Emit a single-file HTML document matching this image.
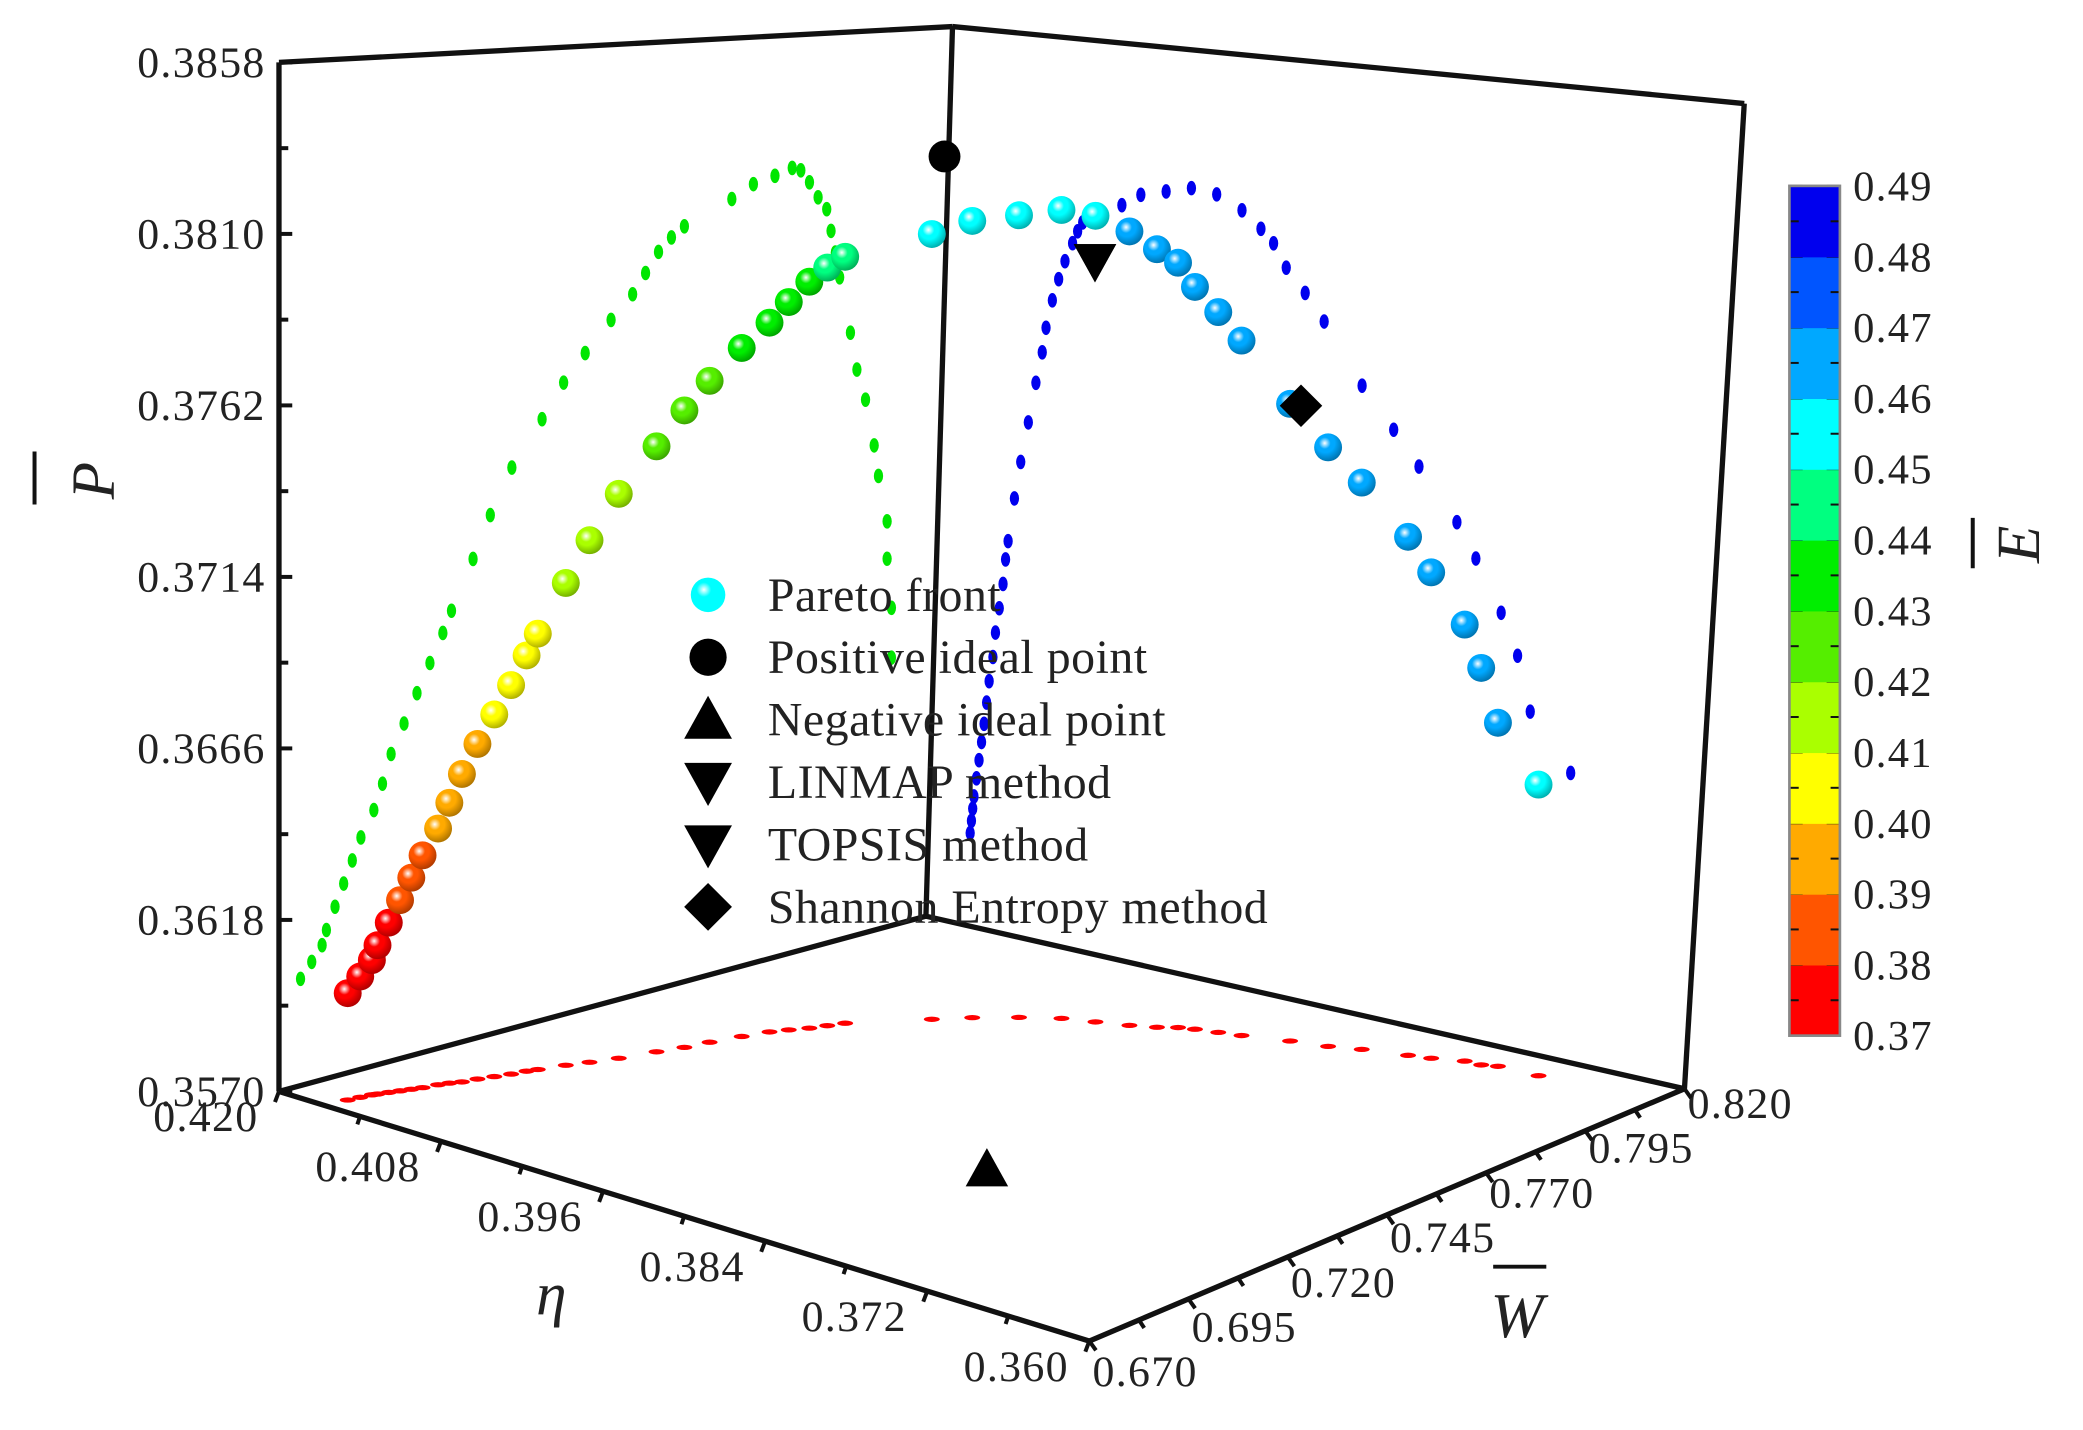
<!DOCTYPE html>
<html><head><meta charset="utf-8"><style>
html,body{margin:0;padding:0;background:#fff;}
svg{display:block;}
text{font-family:"Liberation Serif",serif;fill:#222;}
</style></head><body>
<svg id="chart" width="2083" height="1430" viewBox="0 0 1568 1077" preserveAspectRatio="none" xmlns="http://www.w3.org/2000/svg">
<defs id="defs"></defs>
<g id="box" stroke="#111" stroke-width="4" fill="none">
  <line x1="210" y1="47" x2="717" y2="20"/>
  <line x1="717" y1="20" x2="1313" y2="78"/>
  <line x1="210" y1="47" x2="210" y2="822"/>
  <line x1="717" y1="20" x2="697" y2="690"/>
  <line x1="1313" y1="78" x2="1268" y2="820"/>
  <line x1="210" y1="822" x2="697" y2="690"/>
  <line x1="697" y1="690" x2="1268" y2="820"/>
  <line x1="210" y1="822" x2="820" y2="1010"/>
  <line x1="820" y1="1010" x2="1268" y2="820"/>
</g>
<g id="ticks"></g>
<g id="floor"></g>
<g id="wallL"></g>
<g id="wallR"></g>
<g id="spheres"></g>
<g id="markers"></g>
<g id="legend"></g>
<g id="cbar"></g>
<g id="titles">
  <g transform="translate(86,362) rotate(-90)">
    <text x="0" y="0" font-size="46" font-style="italic" text-anchor="middle">P</text>
    <line x1="-18" y1="-60" x2="22" y2="-60" stroke="#111" stroke-width="3"/>
  </g>
  <text x="415" y="990" font-size="46" font-style="italic" text-anchor="middle">η</text>
  <g>
    <text x="1142" y="1007" font-size="48" font-style="italic" text-anchor="middle">W</text>
    <line x1="1124" y1="954" x2="1164" y2="954" stroke="#111" stroke-width="3"/>
  </g>
  <g transform="translate(1535,410) rotate(-90)">
    <text x="0" y="0" font-size="46" font-style="italic" text-anchor="middle">E</text>
    <line x1="-18" y1="-50" x2="20" y2="-50" stroke="#111" stroke-width="3"/>
  </g>
</g>
</svg>
<script>
// ---------- data ----------
const paretoP   = [0.3600,0.3604,0.3608,0.3612,0.3618,0.3624,0.3630,0.3636,0.3643,0.3650,0.3658,0.3666,0.3674,0.3682,0.3690,0.3696,0.3710,0.3722,0.3735,0.3748,0.3758,0.3766,0.3775,0.3782,0.3788,0.3794,0.3798,0.3801,0.3808,0.3812,0.3814,0.3816,0.3815,0.3811,0.3806,0.3802,0.3795,0.3788,0.3780,0.3762,0.3750,0.3740,0.3725,0.3715,0.3700,0.3688,0.3672,0.3656];
const paretoEta = [0.4165,0.4164,0.4163,0.4162,0.4160,0.4158,0.4156,0.4154,0.4152,0.4150,0.4147,0.4145,0.4142,0.4139,0.4137,0.4135,0.4130,0.4125,0.4119,0.4113,0.4108,0.4105,0.4100,0.4095,0.4090,0.4084,0.4080,0.4076,0.4045,0.4030,0.4010,0.3990,0.3970,0.3950,0.3935,0.3925,0.3915,0.3900,0.3885,0.3855,0.3830,0.3810,0.3780,0.3765,0.3745,0.3732,0.3722,0.3690];
const paretoW   = [0.675,0.6776,0.680,0.681,0.683,0.685,0.687,0.689,0.692,0.694,0.696,0.699,0.702,0.705,0.708,0.710,0.715,0.719,0.724,0.731,0.736,0.741,0.747,0.752,0.755,0.758,0.761,0.764,0.775,0.780,0.785,0.789,0.791,0.793,0.795,0.797,0.798,0.799,0.800,0.8025,0.804,0.806,0.808,0.809,0.811,0.811,0.812,0.812];
const paretoE   = [0.370,0.372,0.374,0.376,0.379,0.382,0.385,0.388,0.391,0.394,0.397,0.399,0.401,0.403,0.405,0.407,0.411,0.414,0.418,0.421,0.424,0.427,0.430,0.433,0.436,0.439,0.442,0.445,0.450,0.452,0.454,0.456,0.458,0.460,0.462,0.463,0.464,0.465,0.465,0.466,0.466,0.467,0.467,0.466,0.466,0.465,0.462,0.455];
const markerNames = ['positive-ideal-point','negative-ideal-point','linmap-point','topsis-point','shannon-entropy-point'];
const markerEta = [0.417,0.384,0.3972,0.3972,0.384];
const markerW   = [0.8155,0.724,0.7915,0.7915,0.8005];
const markerP   = [0.3818,0.357,0.3801,0.3801,0.3763];
const markerShape = ['circle','up','down','down','diamond'];
const pTicks   = ['0.3858','0.3810','0.3762','0.3714','0.3666','0.3618','0.3570'];
const etaTicks = ['0.420','0.408','0.396','0.384','0.372','0.360'];
const wTicks   = ['0.670','0.695','0.720','0.745','0.770','0.795','0.820'];
const cbTicks  = ['0.49','0.48','0.47','0.46','0.45','0.44','0.43','0.42','0.41','0.40','0.39','0.38','0.37'];
const cbColors = ['#ff0000','#ff5500','#ffaa00','#ffff00','#aaff00','#55ee00','#00ee00','#00ff80','#00ffff','#00a8ff','#0055ff','#0000ee'];
const legendLabels = ['Pareto front','Positive ideal point','Negative ideal point','LINMAP method','TOPSIS method','Shannon Entropy method'];

// ---------- projection ----------
const ETA0=0.36, ETA1=0.42, W0=0.67, W1=0.82, P0=0.357, P1=0.3858;
const F=[820,1010], L=[210,822], R=[1268,820], B=[697,690];
const hF=790, hL=775, hR=742, hB=670;
function proj(eta,w,p){
  const a=(eta-ETA0)/(ETA1-ETA0), b=(w-W0)/(W1-W0);
  const wf=(1-a)*(1-b), wl=a*(1-b), wr=(1-a)*b, wb=a*b;
  const x=F[0]*wf+L[0]*wl+R[0]*wr+B[0]*wb;
  const y=F[1]*wf+L[1]*wl+R[1]*wr+B[1]*wb;
  const h=hF*wf+hL*wl+hR*wr+hB*wb;
  return [x, y-(p-P0)/(P1-P0)*h];
}
function eColor(e){let i=Math.floor((e-0.37)/0.01+1e-9);i=Math.max(0,Math.min(11,i));return i;}
const NS='http://www.w3.org/2000/svg';
function mk(tag,attrs,parent){const el=document.createElementNS(NS,tag);for(const k in attrs)el.setAttribute(k,attrs[k]);parent.appendChild(el);return el;}

const defs=document.getElementById('defs');
cbColors.forEach((c,i)=>{
  const g=mk('radialGradient',{id:'g'+i,cx:'0.38',cy:'0.35',r:'0.7'},defs);
  mk('stop',{offset:'0',"stop-color":'#ffffff'},g);
  mk('stop',{offset:'0.3',"stop-color":c},g);
  mk('stop',{offset:'1',"stop-color":c},g);
});
const shade=mk('radialGradient',{id:'shade',cx:'0.4',cy:'0.35',r:'0.75'},defs);
mk('stop',{offset:'0.45',"stop-color":'#000',"stop-opacity":'0'},shade);
mk('stop',{offset:'1',"stop-color":'#000',"stop-opacity":'0.4'},shade);

const tk=document.getElementById('ticks');
pTicks.forEach((t,i)=>{
  const p=parseFloat(t);
  const y=822-(p-P0)/(P1-P0)*775;
  const tl=mk('text',{x:200,y:y+11,"font-size":33,"letter-spacing":1,"text-anchor":'end'},tk);
  tl.textContent=t;
  
  
  mk('line',{x1:210,y1:y,x2:220,y2:y,stroke:'#111','stroke-width':3},tk);
  if(i<pTicks.length-1){const ym=y+(775/12);mk('line',{x1:210,y1:ym,x2:217,y2:ym,stroke:'#111','stroke-width':3},tk);}
});
etaTicks.forEach((t,i)=>{
  const e=parseFloat(t);
  const [x,y]=proj(e,W0,P0);
  const tl=mk('text',{x:x-55,y:y+30,"font-size":33,"letter-spacing":1,"text-anchor":'middle'},tk);
  tl.textContent=t;
  
  
  mk('line',{x1:x,y1:y,x2:x-3,y2:y+8,stroke:'#111','stroke-width':3},tk);
  if(i<etaTicks.length-1){const [x2,y2]=proj(e-0.006,W0,P0);mk('line',{x1:x2,y1:y2,x2:x2-2,y2:y2+6,stroke:'#111','stroke-width':3},tk);}
});
wTicks.forEach((t,i)=>{
  const w=parseFloat(t);
  const [x,y]=proj(ETA0,w,P0);
  const tl=mk('text',{x:x+42,y:y+34-i*2,"font-size":33,"letter-spacing":1,"text-anchor":'middle'},tk);
  tl.textContent=t;
  
  
  mk('line',{x1:x,y1:y,x2:x+5,y2:y+7,stroke:'#111','stroke-width':3},tk);
  if(i<wTicks.length-1){const [x2,y2]=proj(ETA0,w+0.0125,P0);mk('line',{x1:x2,y1:y2,x2:x2+4,y2:y2+6,stroke:'#111','stroke-width':3},tk);}
});

const fl=document.getElementById('floor'), wl=document.getElementById('wallL'), wr=document.getElementById('wallR');
for(let i=0;i<paretoP.length;i++){
  let [x,y]=proj(paretoEta[i],paretoW[i],P0);
  let d=mk('ellipse',{cx:x,cy:y,rx:6,ry:2,fill:'#ff0000'},fl);
  
  
  [x,y]=proj(ETA1,paretoW[i],paretoP[i]);
  d=mk('ellipse',{cx:x,cy:y,rx:3.5,ry:5.5,fill:'#00e600'},wl);
  
  
  [x,y]=proj(paretoEta[i],W1,paretoP[i]);
  d=mk('ellipse',{cx:x,cy:y,rx:3.5,ry:5.5,fill:'#0000ee'},wr);
  
  
}
const sp=document.getElementById('spheres');
for(let i=0;i<paretoP.length;i++){
  const [x,y]=proj(paretoEta[i],paretoW[i],paretoP[i]);
  const ci=eColor(paretoE[i]);
  const g=mk('g',{},sp);
  
  
  mk('circle',{cx:x,cy:y,r:10.5,fill:'url(#g'+ci+')'},g);
  mk('circle',{cx:x,cy:y,r:10.5,fill:'url(#shade)'},g);
}
const mg=document.getElementById('markers');
function shape(kind,x,y,s,parent){
  if(kind==='circle') return mk('circle',{cx:x,cy:y,r:s,fill:'#000'},parent);
  if(kind==='up') return mk('polygon',{points:`${x},${y-s} ${x-s},${y+s*0.8} ${x+s},${y+s*0.8}`,fill:'#000'},parent);
  if(kind==='down') return mk('polygon',{points:`${x-s},${y-s*0.8} ${x+s},${y-s*0.8} ${x},${y+s}`,fill:'#000'},parent);
  return mk('polygon',{points:`${x},${y-s} ${x+s},${y} ${x},${y+s} ${x-s},${y}`,fill:'#000'},parent);
}
for(let i=0;i<markerNames.length;i++){
  let [x,y]=proj(markerEta[i],markerW[i],markerP[i]);
  if(markerShape[i]==='up') y+=6;
  const el=shape(markerShape[i],x,y,markerShape[i]==='circle'?12:16,mg);
  
  
}
const lg=document.getElementById('legend');
legendLabels.forEach((t,i)=>{
  const y=448+i*47;
  const g=mk('g',{},lg);
  
  
  if(i===0){mk('circle',{cx:533,cy:y,r:13,fill:'url(#g8)'},g);}
  else shape(['circle','up','down','down','diamond'][i-1],533,y,i===1?14:18,g);
  const tx=mk('text',{x:578,y:y+12,"font-size":36,"letter-spacing":0.4},g);
  tx.textContent=t;
});
const cb=document.getElementById('cbar');
const cbTop=140, cbBot=780, cbX=1347, cbW=38;
const band=(cbBot-cbTop)/cbColors.length;
cbColors.forEach((c,i)=>{
  const y=cbBot-(i+1)*band;
  const r=mk('rect',{x:cbX,y:y,width:cbW,height:band+0.5,fill:c},cb);
  
  
  mk('line',{x1:cbX,y1:y,x2:cbX+cbW,y2:y,stroke:'#111','stroke-width':1.5,'stroke-dasharray':'10 18'},cb);
  mk('line',{x1:cbX,y1:y+band/2,x2:cbX+7,y2:y+band/2,stroke:'#111','stroke-width':1.5},cb);
  mk('line',{x1:cbX+cbW-7,y1:y+band/2,x2:cbX+cbW,y2:y+band/2,stroke:'#111','stroke-width':1.5},cb);
});
mk('rect',{x:cbX,y:cbTop,width:cbW,height:cbBot-cbTop,fill:'none',stroke:'#888','stroke-width':2},cb);
cbTicks.forEach((t,i)=>{
  const y=cbTop+i*(cbBot-cbTop)/(cbTicks.length-1);
  const tx=mk('text',{x:1395,y:y+11,"font-size":32,"letter-spacing":1},cb);
  tx.textContent=t;
  
  
});
</script>
</body></html>
